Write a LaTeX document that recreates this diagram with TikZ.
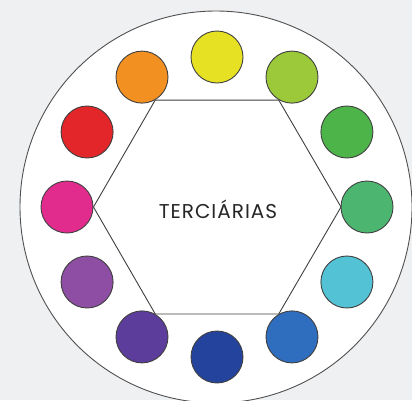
\documentclass[tikz,border=0pt]{standalone}
\usepackage{fontspec}
\usetikzlibrary{calc}
\newfontfamily\labelfont[LetterSpace=5]{Poppins}
\definecolor{bg}{HTML}{EFF0F2}
\definecolor{ringline}{HTML}{505050}
\definecolor{cyellow}{HTML}{E6E123}
\definecolor{cyg}{HTML}{9CC93A}
\definecolor{cgreen}{HTML}{4DB449}
\definecolor{cgreen2}{HTML}{4CB671}
\definecolor{ccyan}{HTML}{52C2D4}
\definecolor{cblue}{HTML}{2F6DBF}
\definecolor{cdblue}{HTML}{24439D}
\definecolor{cpurple}{HTML}{5C3D9B}
\definecolor{cviolet}{HTML}{8D4EA3}
\definecolor{cmagenta}{HTML}{E22C8D}
\definecolor{cred}{HTML}{E2262A}
\definecolor{corange}{HTML}{F39022}
\begin{document}
\begin{tikzpicture}[x=1pt,y=-1pt,
  dot/.style={circle,draw=black!75,line width=0.9pt,minimum size=52pt,inner sep=0pt},
  hexline/.style={draw=black!75,line width=0.9pt}]
\useasboundingbox (0,0) rectangle (412,400);
\fill[bg] (0,0) rectangle (412,400);
\begin{scope}
\clip (0,0) rectangle (412,400);
\draw[ringline,fill=white,line width=0.9pt] (216,207) circle (196);
\end{scope}
\coordinate (c) at (217,207);
% hexagon
\path (c) ++(0:124) coordinate (h0)
      (c) ++(-60:123.5) coordinate (h1)
      (c) ++(-120:123.5) coordinate (h2)
      (c) ++(180:123.5) coordinate (h3)
      (c) ++(120:123.5) coordinate (h4)
      (c) ++(60:123.5) coordinate (h5);
\draw[hexline] (h0) -- (h1) -- (h2) -- (h3) -- (h4) -- (h5) -- cycle;
% colour dots (angles measured with y downward)
\node[dot,fill=cyellow]  (n1)  at ($(c)+(-90:150)$) {};
\node[dot,fill=cyg]      (n2)  at ($(c)+(-60:150)$) {};
\node[dot,fill=cgreen]   (n3)  at ($(c)+(-30:150)$) {};
\node[dot,fill=cgreen2]  (n4)  at ($(c)+(0:150)$) {};
\node[dot,fill=ccyan]    (n5)  at ($(c)+(30:150)$) {};
\node[dot,fill=cblue]    (n6)  at ($(c)+(60:150)$) {};
\node[dot,fill=cdblue]   (n7)  at ($(c)+(90:150)$) {};
\node[dot,fill=cpurple]  (n8)  at ($(c)+(120:150)$) {};
\node[dot,fill=cviolet]  (n9)  at ($(c)+(150:150)$) {};
\node[dot,fill=cmagenta] (n10) at ($(c)+(180:150)$) {};
\node[dot,fill=cred]     (n11) at ($(c)+(210:150)$) {};
\node[dot,fill=corange]  (n12) at ($(c)+(240:150)$) {};
\node[text=black!85,font=\labelfont\fontsize{20}{22}\selectfont,inner sep=0pt] (lbl) at (218,209) {TERCIÁRIAS};
\end{tikzpicture}
\end{document}
